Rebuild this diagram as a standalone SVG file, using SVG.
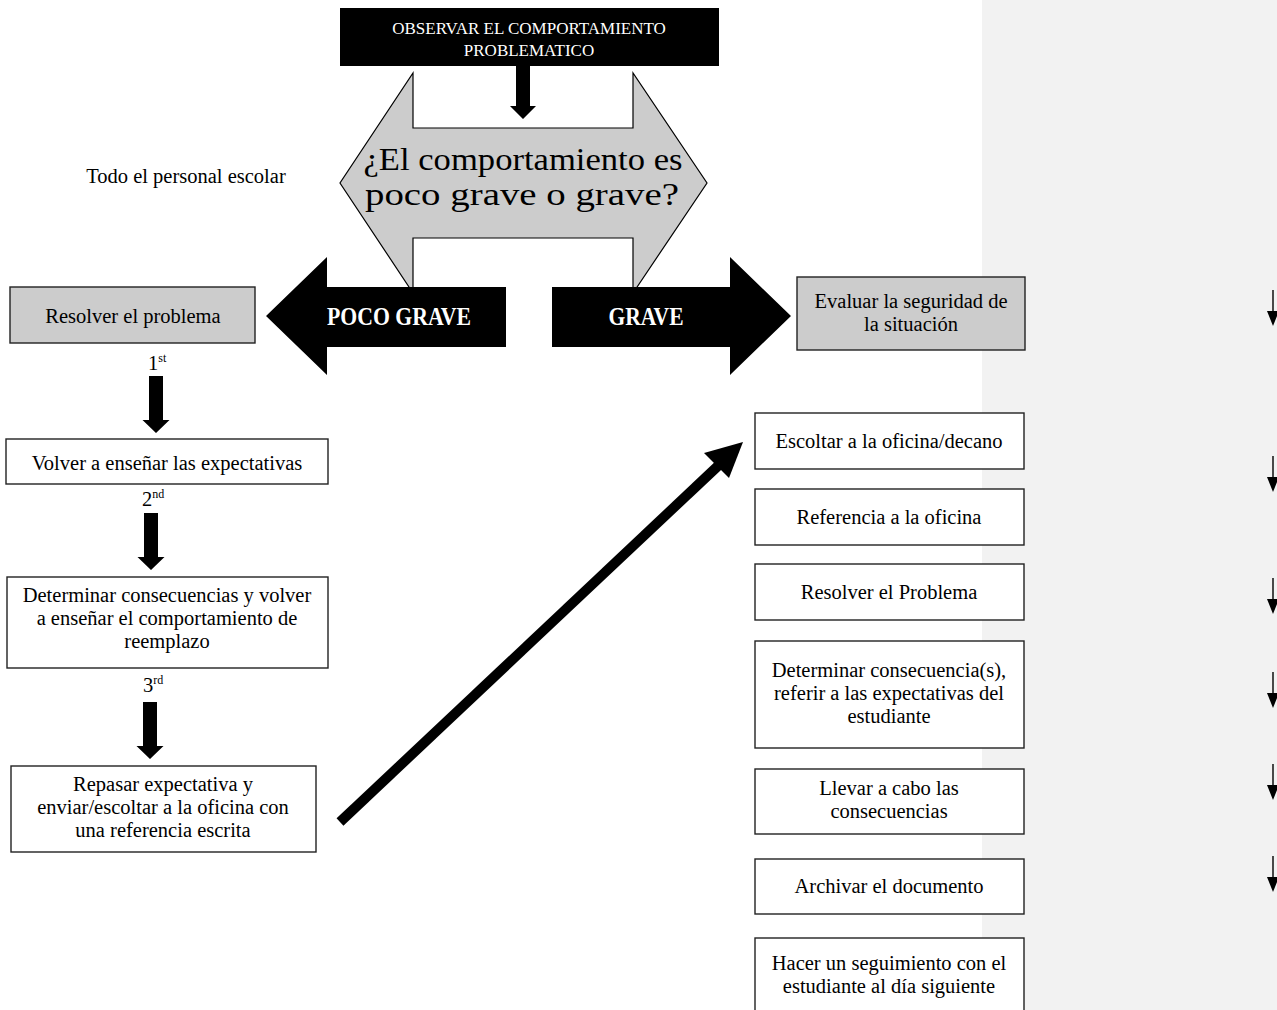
<svg xmlns="http://www.w3.org/2000/svg" width="1277" height="1010" viewBox="0 0 1277 1010">
<style>
  text { font-family: "Liberation Serif", "Times New Roman", serif; fill: #000; }
  .t { font-size: 20.5px; text-anchor: middle; }
  .lbl { font-size: 20.5px; }
  .sup { font-size: 12px; }
  .box { fill: #ffffff; stroke: #222; stroke-width: 1.4; }
  .gbox { fill: #cccccc; stroke: #222; stroke-width: 1.4; }
  .white { fill: #ffffff; }
  .big { font-weight: bold; font-size: 26px; text-anchor: middle; fill: #ffffff; }
  .q { font-size: 32px; text-anchor: middle; }
  .blk { fill: #000; }
</style>
<defs>
  <g id="smallArrow">
    <line x1="0" y1="0" x2="0" y2="23" stroke="#000" stroke-width="1.4"/>
    <polygon points="-6,21 6,21 0,36" fill="#000"/>
  </g>
  <g id="downArrow">
    <polygon points="-7,0 7,0 7,44 13.5,44 0,57 -13.5,44 -7,44" fill="#000"/>
  </g>
</defs>
<rect x="0" y="0" width="1277" height="1010" fill="#ffffff"/>
<rect x="982" y="0" width="295" height="1010" fill="#f2f2f2"/>

<g id="connectors">
  <polygon points="516,66 530,66 530,106 536,106 523,119 510,106 516,106" fill="#000"/>
  <use href="#downArrow" x="156" y="376"/>
  <use href="#downArrow" x="151" y="513"/>
  <use href="#downArrow" x="150" y="702"/>
  <line x1="340" y1="822" x2="719" y2="465" stroke="#000" stroke-width="10"/>
  <polygon points="743,442 704,453 729,478" fill="#000"/>
  <use href="#smallArrow" x="1273" y="290"/>
  <use href="#smallArrow" x="1273" y="456"/>
  <use href="#smallArrow" x="1273" y="578"/>
  <use href="#smallArrow" x="1273" y="672"/>
  <use href="#smallArrow" x="1273" y="764"/>
  <use href="#smallArrow" x="1273" y="856"/>
</g>

<g id="n-question">
  <polygon points="413,73 413,128 633,128 633,73 707,183 633,293 633,238 413,238 413,293 340,183" fill="#cccccc" stroke="#000" stroke-width="1.2"/>
  <text x="523" y="170" class="q" textLength="319" lengthAdjust="spacingAndGlyphs">¿El comportamiento es</text>
  <text x="522" y="205" class="q" textLength="314" lengthAdjust="spacingAndGlyphs">poco grave o grave?</text>
</g>

<g id="n-observar">
  <rect x="340" y="8" width="379" height="58" fill="#000"/>
  <text x="529" y="34" font-size="17" text-anchor="middle" class="white">OBSERVAR EL COMPORTAMIENTO</text>
  <text x="529" y="56" font-size="17" text-anchor="middle" class="white">PROBLEMATICO</text>
</g>

<g id="n-poco-grave">
  <polygon points="266,316 327,257 327,287 506,287 506,347 327,347 327,375" class="blk"/>
  <text x="399" y="325" class="big" textLength="144" lengthAdjust="spacingAndGlyphs">POCO GRAVE</text>
</g>

<g id="n-grave">
  <polygon points="552,287 730,287 730,257 791,316 730,375 730,347 552,347" class="blk"/>
  <text x="646" y="325" class="big" textLength="75" lengthAdjust="spacingAndGlyphs">GRAVE</text>
</g>

<g id="n-personal">
  <text x="186" y="183" class="t">Todo el personal escolar</text>
</g>

<g id="n-resolver">
  <rect x="10" y="287" width="245" height="56" class="gbox"/>
  <text x="133" y="323" class="t">Resolver el problema</text>
</g>

<g id="lbl-1st"><text x="148" y="370" class="lbl">1<tspan class="sup" dy="-8">st</tspan></text></g>
<g id="lbl-2nd"><text x="142" y="506" class="lbl">2<tspan class="sup" dy="-8">nd</tspan></text></g>
<g id="lbl-3rd"><text x="143" y="692" class="lbl">3<tspan class="sup" dy="-8">rd</tspan></text></g>

<g id="n-volver">
  <rect x="6" y="439" width="322" height="45" class="box"/>
  <text x="167" y="470" class="t">Volver a enseñar las expectativas</text>
</g>

<g id="n-determinar">
  <rect x="7" y="577" width="321" height="91" class="box"/>
  <text x="167" y="602" class="t">Determinar consecuencias y volver</text>
  <text x="167" y="625" class="t">a enseñar el comportamiento de</text>
  <text x="167" y="648" class="t">reemplazo</text>
</g>

<g id="n-repasar">
  <rect x="11" y="766" width="305" height="86" class="box"/>
  <text x="163" y="791" class="t">Repasar expectativa y</text>
  <text x="163" y="814" class="t">enviar/escoltar a la oficina con</text>
  <text x="163" y="837" class="t">una referencia escrita</text>
</g>

<g id="n-evaluar">
  <rect x="797" y="277" width="228" height="73" class="gbox"/>
  <text x="911" y="308" class="t">Evaluar la seguridad de</text>
  <text x="911" y="331" class="t">la situación</text>
</g>

<g id="n-escoltar">
  <rect x="755" y="413" width="269" height="56" class="box"/>
  <text x="889" y="448" class="t">Escoltar a la oficina/decano</text>
</g>

<g id="n-referencia">
  <rect x="755" y="489" width="269" height="56" class="box"/>
  <text x="889" y="524" class="t">Referencia a la oficina</text>
</g>

<g id="n-resolver2">
  <rect x="755" y="564" width="269" height="56" class="box"/>
  <text x="889" y="599" class="t">Resolver el Problema</text>
</g>

<g id="n-consecuencias">
  <rect x="755" y="641" width="269" height="107" class="box"/>
  <text x="889" y="677" class="t">Determinar consecuencia(s),</text>
  <text x="889" y="700" class="t">referir a las expectativas del</text>
  <text x="889" y="723" class="t">estudiante</text>
</g>

<g id="n-llevar">
  <rect x="755" y="769" width="269" height="65" class="box"/>
  <text x="889" y="795" class="t">Llevar a cabo las</text>
  <text x="889" y="818" class="t">consecuencias</text>
</g>

<g id="n-archivar">
  <rect x="755" y="859" width="269" height="55" class="box"/>
  <text x="889" y="893" class="t">Archivar el documento</text>
</g>

<g id="n-seguimiento">
  <rect x="755" y="938" width="269" height="90" class="box"/>
  <text x="889" y="970" class="t">Hacer un seguimiento con el</text>
  <text x="889" y="993" class="t">estudiante al día siguiente</text>
</g>
</svg>
